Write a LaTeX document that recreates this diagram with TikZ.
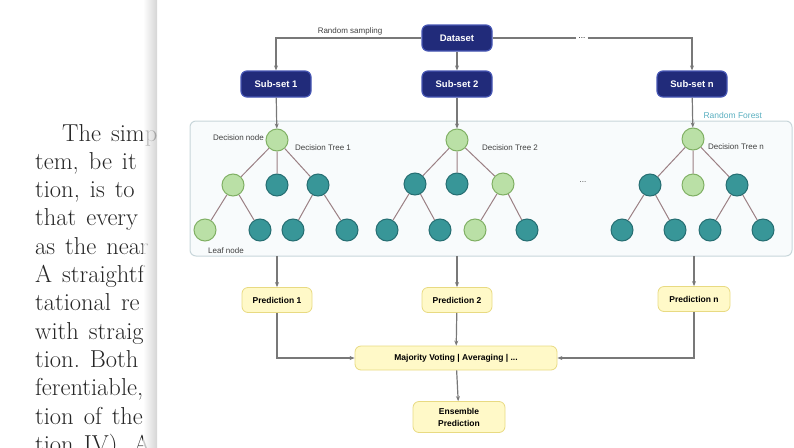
\documentclass[tikz,border=0pt]{standalone}
\usepackage{fontspec}
\usepackage{tikz}
\usetikzlibrary{arrows.meta}
\newfontfamily\diagfont{Liberation Sans}
\definecolor{navyset}{RGB}{33,43,122}
\definecolor{navyline}{RGB}{70,86,180}
\definecolor{predfill}{RGB}{255,249,200}
\definecolor{predline}{RGB}{232,218,130}
\definecolor{greenfill}{RGB}{186,224,166}
\definecolor{greenline}{RGB}{128,176,100}
\definecolor{tealfill}{RGB}{56,150,152}
\definecolor{tealline}{RGB}{38,110,114}
\definecolor{forestfill}{RGB}{248,251,252}
\definecolor{forestline}{RGB}{200,214,218}
\definecolor{forestlabel}{RGB}{90,175,192}
\definecolor{branch}{RGB}{155,128,132}
\definecolor{wire}{RGB}{120,120,120}
\tikzset{
  setbox/.style={draw=navyline, line width=1.2pt, fill=navyset, rounded corners=6pt,
    text=white, font=\diagfont\fontsize{9.5}{11}\selectfont\bfseries,
    minimum width=70pt, minimum height=26pt, inner sep=2pt},
  predbox/.style={draw=predline, line width=0.8pt, fill=predfill, rounded corners=6pt,
    font=\diagfont\fontsize{8.5}{11}\selectfont\bfseries, minimum height=25pt, inner sep=3pt},
  greennode/.style={circle, draw=greenline, line width=1pt, fill=greenfill, minimum size=22pt, inner sep=0pt},
  tealnode/.style={circle, draw=tealline, line width=1pt, fill=tealfill, minimum size=22pt, inner sep=0pt},
  smalllabel/.style={font=\diagfont\fontsize{8}{9}\selectfont, text=black!75, inner sep=1pt},
  wirearrow/.style={draw=wire, line width=1.2pt, -{Stealth[length=5pt,width=4pt]}},
  pagetext/.style={anchor=base west, inner sep=0pt,
    font=\fontsize{24.5}{28}\selectfont, execute at begin node={\spaceskip=10pt\relax}, text=black!85}
}
\begin{document}
\begin{tikzpicture}[x=1pt,y=-1pt]
\useasboundingbox (0,0) rectangle (794,447);

% page text cut off by the figure
\begin{scope}
  \clip (0,0) rectangle (156,447);
  \node[pagetext] (line0) at (62,141) {The simp};
  \foreach \txt [count=\i] in {{tem, be it}, {tion, is to}, {that every}, {as the near},
      {A straightf}, {tational re}, {with straig}, {tion.\ Both}, {ferentiable,}, {tion of the}, {tion IV). A}}
    \node[pagetext] (line\i) at (35,141+28.3*\i) {\txt};
\end{scope}
\shade[left color=white, right color=black!22, opacity=0.75] (143,0) rectangle (157,447);

% random forest container
\draw[draw=forestline, line width=1pt, fill=forestfill, rounded corners=6pt] (190,121) rectangle (792,256);
\node[anchor=west, font=\diagfont\fontsize{8.5}{10}\selectfont, text=forestlabel] (rflabel) at (700,115) {Random Forest};

% dataset and sub-sets
\node[setbox] (ds) at (457,38) {Dataset};
\node[setbox] (s1) at (276,84) {Sub-set 1};
\node[setbox] (s2) at (457,84) {Sub-set 2};
\node[setbox] (sn) at (692,84) {Sub-set n};
\node[smalllabel] (rs) at (350,31) {Random sampling};
\node[fill=white, font=\diagfont\fontsize{8}{9}\selectfont, inner sep=2pt] (gap) at (582,38) {...};

\draw[wirearrow] (ds.west) -| (s1.north);
\draw[wirearrow] (ds) -- (s2);
\draw[draw=wire, line width=1.2pt] (ds.east) -- (gap.west);
\draw[wirearrow] (gap.east) -| (sn.north);

% tree 1
\node[greennode] (t1r) at (277,140) {};
\node[greennode] (t1a) at (233,185) {};
\node[tealnode] (t1b) at (277,185) {};
\node[tealnode] (t1c) at (318,185) {};
\node[greennode] (t1d) at (205,230) {};
\node[tealnode] (t1e) at (260,230) {};
\node[tealnode] (t1f) at (293,230) {};
\node[tealnode] (t1g) at (347,230) {};
% tree 2
\node[greennode] (t2r) at (457,140) {};
\node[tealnode] (t2a) at (415,184) {};
\node[tealnode] (t2b) at (457,184) {};
\node[greennode] (t2c) at (503,184) {};
\node[tealnode] (t2d) at (387,230) {};
\node[tealnode] (t2e) at (440,230) {};
\node[greennode] (t2f) at (475,230) {};
\node[tealnode] (t2g) at (527,230) {};
% tree n
\node[greennode] (tnr) at (693,139) {};
\node[tealnode] (tna) at (650,185) {};
\node[greennode] (tnb) at (693,185) {};
\node[tealnode] (tnc) at (737,185) {};
\node[tealnode] (tnd) at (622,230) {};
\node[tealnode] (tne) at (675,230) {};
\node[tealnode] (tnf) at (710,230) {};
\node[tealnode] (tng) at (763,230) {};

\foreach \t in {t1,t2,tn} {
  \draw[branch, line width=1pt] (\t r) -- (\t a) (\t r) -- (\t b) (\t r) -- (\t c)
    (\t a) -- (\t d) (\t a) -- (\t e) (\t c) -- (\t f) (\t c) -- (\t g);
}

\node[smalllabel, anchor=east] (decnode) at (265,138) {Decision node};
\node[smalllabel] (leafnode) at (226,251) {Leaf node};
\node[smalllabel, anchor=west] (dt1) at (294,148) {Decision Tree 1};
\node[smalllabel, anchor=west] (dt2) at (481,148) {Decision Tree 2};
\node[smalllabel, anchor=west] (dtn) at (707,147) {Decision Tree n};
\node[smalllabel] (tdots) at (583,182) {...};

\draw[wirearrow] (s1) -- (t1r);
\draw[wirearrow] (s2) -- (t2r);
\draw[wirearrow] (sn) -- (tnr);

% predictions
\node[predbox, minimum width=70pt] (p1) at (277,300) {Prediction 1};
\node[predbox, minimum width=70pt] (p2) at (457,300) {Prediction 2};
\node[predbox, minimum width=72pt] (pn) at (694,299) {Prediction n};
\node[predbox, minimum width=202pt, minimum height=24pt] (vote) at (456,358) {Majority Voting | Averaging | ...};
\node[predbox, minimum width=92pt, minimum height=31pt, align=center,
  font=\diagfont\fontsize{8.5}{12}\selectfont\bfseries] (ens) at (459,417) {Ensemble\\Prediction};

\coordinate (f1) at (277,256);
\coordinate (f2) at (457,256);
\coordinate (fn) at (694,256);
\draw[wirearrow] (f1) -- (p1);
\draw[wirearrow] (f2) -- (p2);
\draw[wirearrow] (fn) -- (pn);
\draw[wirearrow] (p1) |- (vote);
\draw[wirearrow] (pn) |- (vote);
\draw[wirearrow] (p2) -- (vote);
\draw[wirearrow] (vote) -- (ens);
\end{tikzpicture}
\end{document}
